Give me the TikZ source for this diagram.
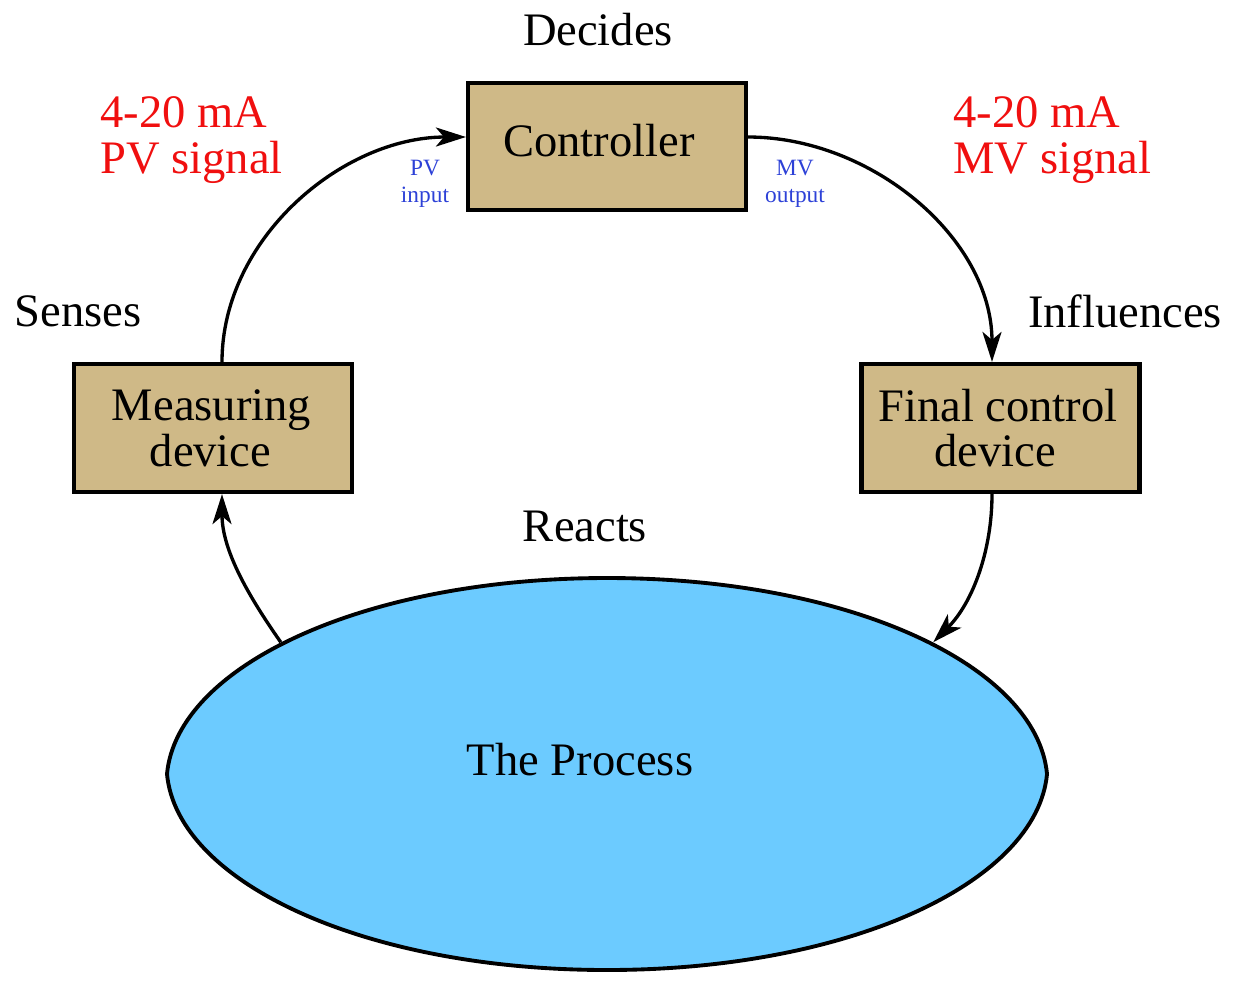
\documentclass[tikz,border=0pt]{standalone}
\usepackage{fontspec}
\setmainfont{Liberation Serif}
\usetikzlibrary{arrows.meta,shapes.geometric}
\definecolor{boxtan}{RGB}{207,185,135}
\definecolor{procblue}{RGB}{108,203,255}
\definecolor{sigred}{RGB}{240,15,15}
\definecolor{portblue}{RGB}{45,65,215}
\tikzset{
  blk/.style={draw=black,line width=2.4pt,fill=boxtan,minimum width=5.56cm,minimum height=2.56cm,align=center,inner sep=0pt,font=\fontsize{26.5}{26}\selectfont},
  lbl/.style={font=\fontsize{26.5}{26}\selectfont,inner sep=0pt},
  sig/.style={font=\fontsize{26.5}{26.5}\selectfont,text=sigred,align=left,inner sep=0pt,anchor=west},
  port/.style={font=\fontsize{13.3}{15.5}\selectfont,text=portblue,align=center,inner sep=0pt},
  conn/.style={line width=1.9pt,-{Stealth[length=0.6cm,width=0.38cm,inset=0.16cm]}},
}
\begin{document}
\begin{tikzpicture}[x=0.02cm,y=-0.02cm]
\useasboundingbox (0,0) rectangle (1254,988);
\node[blk,minimum height=2.54cm] (ctrl) at (607,146.5) {\raisebox{0.24cm}{Controller}\hspace*{0.32cm}};
\node[blk] (meas) at (213,428) {Measuring\hspace*{0.06cm}\\\hspace*{0.1cm}device\hspace*{0.2cm}};
\node[blk] (fcd) at (1000.5,428) {Final control\hspace*{0.1cm}\\device\hspace*{0.22cm}};
% process: invisible ellipse for anchors, drawn outline with pointed ends
\node[ellipse,minimum width=17.6cm,minimum height=7.84cm,inner sep=0pt] (proc) at (607,774) {};
\fill[procblue,draw=black,line width=2.2pt]
  (167,774) .. controls (177,666) and (364,578) .. (607,578)
  .. controls (850,578) and (1037,666) .. (1047,774)
  .. controls (1037,882) and (850,970) .. (607,970)
  .. controls (364,970) and (177,882) .. cycle;
\node[lbl] (ptext) at (580,760) {The Process};
\node[lbl] (decides) at (598,30) {Decides};
\node[lbl] (senses) at (78,311) {Senses};
\node[lbl] (infl) at (1125,311) {Influences};
\node[lbl] (reacts) at (585,526) {Reacts};
\node[sig] (pvsig) at (100,140) {4-20 mA\\PV signal};
\node[sig] (mvsig) at (953,140) {4-20 mA\\MV signal};
\node[port] (pvin) at (425,184) {PV\\input};
\node[port] (mvout) at (795,184) {MV\\output};
\draw[conn] ([xshift=0.18cm]meas.north) to[out=90,in=180,looseness=0.95] ([yshift=0.19cm]ctrl.west);
\draw[conn] ([yshift=0.19cm]ctrl.east) to[out=0,in=90,looseness=0.95] ([xshift=-0.17cm]fcd.north);
\draw[conn] ([xshift=-0.17cm]fcd.south) to[out=-90,in=45,looseness=0.9] (proc.22);
\draw[conn] (proc.158) to[out=125,in=-90,looseness=0.9] ([xshift=0.18cm]meas.south);
\end{tikzpicture}
\end{document}
